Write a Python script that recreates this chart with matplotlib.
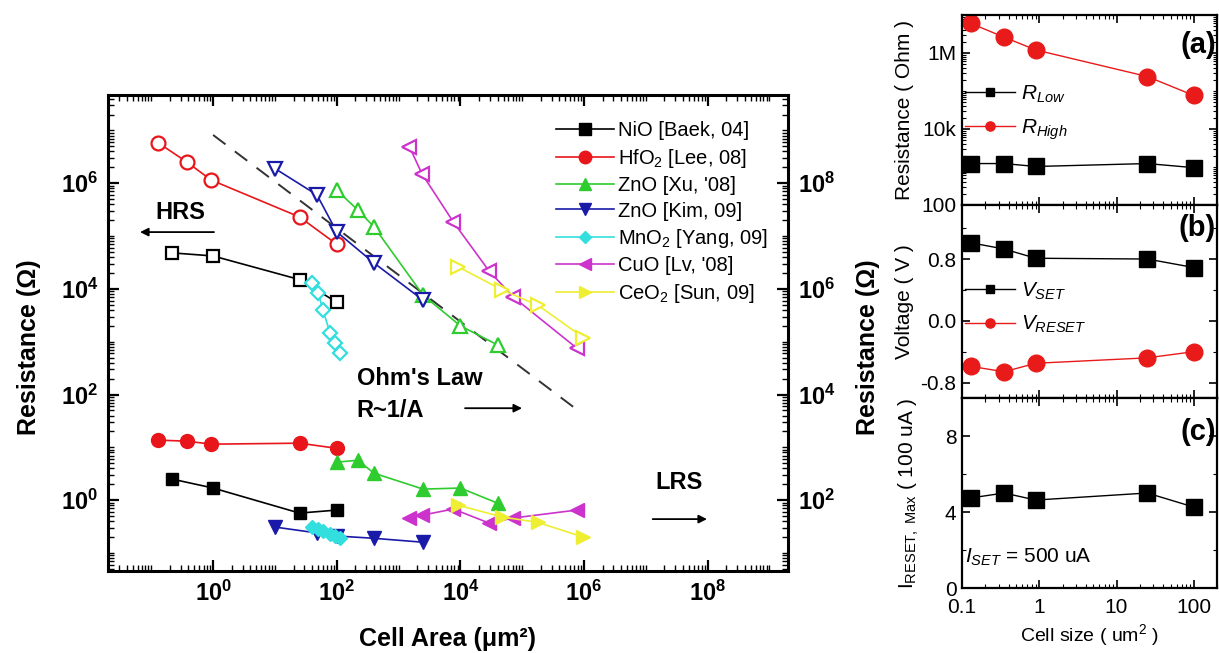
import numpy as np
import matplotlib
matplotlib.use('Agg')
import matplotlib.pyplot as plt
from matplotlib import font_manager as fm
from matplotlib.ticker import LogLocator, FuncFormatter, FixedLocator, NullFormatter

plt.rcParams['font.family'] = ['Liberation Sans', 'DejaVu Sans']
plt.rcParams['mathtext.fontset'] = 'custom'
plt.rcParams['mathtext.rm'] = 'Liberation Sans'
plt.rcParams['mathtext.it'] = 'Liberation Sans:italic'
plt.rcParams['mathtext.bf'] = 'Liberation Sans:bold'

names = [f.name for f in fm.fontManager.ttflist]
narrow = 'Liberation Sans Narrow' if 'Liberation Sans Narrow' in names else 'Liberation Sans'

# ---- left chart: HRS (left axis) and LRS (right axis) vs cell area ----
area_nio = [0.22, 1.0, 25, 100]
hrs_nio = [4.8e4, 4.2e4, 1.5e4, 5.6e3]
lrs_nio = [250, 170, 57, 65]

area_hfo2 = [0.13, 0.38, 0.93, 25, 100]
hrs_hfo2 = [5.8e6, 2.5e6, 1.15e6, 2.3e5, 7.0e4]
lrs_hfo2 = [1370, 1310, 1150, 1200, 960]

area_xu = [100, 220, 400, 2500, 1.0e4, 4.0e4]
hrs_xu = [7.4e5, 3.1e5, 1.5e5, 7.6e3, 2.0e3, 870]
lrs_xu = [525, 570, 325, 162, 170, 88]

area_kim = [10, 48, 100, 400, 2500]
hrs_kim = [1.9e6, 6.0e5, 1.2e5, 3.1e4, 6.1e3]
lrs_kim = [31, 24, 21, 19, 16]

area_mno2 = [40, 50, 60, 78, 95, 115]
hrs_mno2 = [1.3e4, 8.3e3, 4.0e3, 1.45e3, 940, 600]
lrs_mno2 = [31, 28, 26, 23, 21, 19]

area_cuo = [1.5e3, 2.4e3, 7.7e3, 2.9e4, 7.2e4, 7.6e5]
hrs_cuo = [4.9e6, 1.5e6, 1.85e5, 2.2e4, 7.0e3, 760]
lrs_cuo = [46, 52, 68, 37, 46, 65]

area_ceo2 = [9.3e3, 4.8e4, 1.8e5, 9.8e5]
hrs_ceo2 = [2.6e4, 9.5e3, 4.9e3, 1.2e3]
lrs_ceo2 = [80, 48, 38, 20]

ohm_area = [1.0, 8.8e5]
ohm_r = [8.2e6, 46]

# ---- right panels: cell size dependence ----
cell_size = [0.13, 0.35, 0.9, 25, 100]
r_low = [1230, 1230, 1030, 1230, 960]
r_high = [6.0e6, 2.6e6, 1.2e6, 2.4e5, 7.6e4]
v_set = [1.01, 0.93, 0.81, 0.80, 0.69]
v_reset = [-0.59, -0.66, -0.55, -0.48, -0.40]
i_reset = [4.74, 5.0, 4.63, 5.0, 4.26]

series = [
    ('NiO [Baek, 04]', area_nio, hrs_nio, lrs_nio, 'black', 's', 9),
    ('HfO$_2$ [Lee, 08]', area_hfo2, hrs_hfo2, lrs_hfo2, '#e8161b', 'o', 10),
    ("ZnO [Xu, '08]", area_xu, hrs_xu, lrs_xu, '#2ecc2e', '^', 10),
    ('ZnO [Kim, 09]', area_kim, hrs_kim, lrs_kim, '#1a1aa8', 'v', 10),
    ('MnO$_2$ [Yang, 09]', area_mno2, hrs_mno2, lrs_mno2, '#33dede', 'D', 7),
    ("CuO [Lv, '08]", area_cuo, hrs_cuo, lrs_cuo, '#cc33cc', '<', 10),
    ('CeO$_2$ [Sun, 09]', area_ceo2, hrs_ceo2, lrs_ceo2, '#eeee33', '>', 10),
]

fig = plt.figure(figsize=(12.19, 6.53), dpi=100)
ax = fig.add_axes([0.0886, 0.1256, 0.5578, 0.7289])
ax2 = ax.twinx()
ax.set_xscale('log')
ax.set_yscale('log')
ax2.set_yscale('log')
ylo, yhi = 10 ** -1.34, 10 ** 7.67
ax.set_xlim(10 ** -1.7, 10 ** 9.3)
ax.set_ylim(ylo, yhi)
ax2.set_ylim(ylo * 100, yhi * 100)

ax.plot(ohm_area, ohm_r, color='#333333', lw=1.4, ls=(0, (8, 6)))

handles = []
for label, xa, hrs, lrs, c, m, ms in series:
    ax.plot(xa, hrs, color=c, marker=m, ms=ms, mfc='white', mec=c, mew=1.6, lw=1.2)
    h, = ax2.plot(xa, lrs, color=c, marker=m, ms=ms, mfc=c, mec=c, lw=1.2, label=label)
    handles.append(h)

ax2.legend(handles=handles, loc='upper left', bbox_to_anchor=(0.659, 0.945),
           frameon=False, fontsize=14.5, handlelength=2.9, handletextpad=0.15,
           labelspacing=0.32, borderpad=0, borderaxespad=0, markerscale=0.9)


def dec_label(v, pos):
    return r'$\mathbf{10^{%d}}$' % int(round(np.log10(v)))


# labels every second decade, plain ticks on the others
ax.xaxis.set_major_locator(FixedLocator(10.0 ** np.arange(0, 9, 2)))
ax.yaxis.set_major_locator(FixedLocator(10.0 ** np.arange(0, 7, 2)))
ax2.yaxis.set_major_locator(FixedLocator(10.0 ** np.arange(2, 9, 2)))
for axis in (ax.xaxis, ax.yaxis, ax2.yaxis):
    axis.set_minor_locator(LogLocator(base=10, subs=np.arange(1, 10), numticks=30))
    axis.set_major_formatter(FuncFormatter(dec_label))
    axis.set_minor_formatter(NullFormatter())

ax.tick_params(which='both', direction='in', top=True, labelsize=17, pad=7)
ax.tick_params(which='major', length=8, width=1.6)
ax.tick_params(which='minor', length=4, width=1.0)
ax2.tick_params(which='both', direction='in', labelsize=17, pad=7)
ax2.tick_params(which='major', length=8, width=1.6)
ax2.tick_params(which='minor', length=4, width=1.0)
for s in ax.spines.values():
    s.set_linewidth(2.2)

ax.set_xlabel('Cell Area (μm²)', fontsize=18, fontweight='bold')
ax.xaxis.set_label_coords(0.5, -0.117)
ax.set_ylabel('Resistance (Ω)', fontsize=18, fontweight='bold')
ax.yaxis.set_label_coords(-0.098, 0.47)
ax2.set_ylabel('Resistance (Ω)', fontsize=18, fontweight='bold')
ax2.yaxis.set_label_coords(1.1, 0.47)

ax.text(0.106, 0.754, 'HRS', transform=ax.transAxes, fontsize=17, fontweight='bold',
        ha='center', va='center')
ax.annotate('', xy=(0.043, 0.712), xytext=(0.16, 0.712), xycoords='axes fraction',
            arrowprops=dict(arrowstyle='-|>', color='black', lw=1.3, mutation_scale=12))
ax.text(0.366, 0.405, "Ohm's Law", transform=ax.transAxes, fontsize=17, fontweight='bold',
        ha='left', va='center')
ax.text(0.366, 0.338, 'R~1/A', transform=ax.transAxes, fontsize=17, fontweight='bold',
        ha='left', va='center')
ax.annotate('', xy=(0.613, 0.342), xytext=(0.521, 0.342), xycoords='axes fraction',
            arrowprops=dict(arrowstyle='-|>', color='black', lw=1.3, mutation_scale=12))
ax.text(0.84, 0.185, 'LRS', transform=ax.transAxes, fontsize=17, fontweight='bold',
        ha='center', va='center')
ax.annotate('', xy=(0.885, 0.109), xytext=(0.797, 0.109), xycoords='axes fraction',
            arrowprops=dict(arrowstyle='-|>', color='black', lw=1.3, mutation_scale=12))

# ---- right stacked panels ----
left, width = 0.7892, 0.2092
axa = fig.add_axes([left, 0.6861, width, 0.2910])
axb = fig.add_axes([left, 0.3905, width, 0.2956], sharex=axa)
axc = fig.add_axes([left, 0.0995, width, 0.2910], sharex=axa)

red = '#e81a1a'
axa.plot(cell_size, r_low, color='black', marker='s', ms=11, lw=1.0, label='$R_{Low}$')
axa.plot(cell_size, r_high, color=red, marker='o', ms=12, lw=1.0, label='$R_{High}$')
axa.set_yscale('log')
axa.set_xscale('log')
axa.set_xlim(0.1, 200)
axa.set_ylim(100, 1e7)
axa.yaxis.set_major_locator(FixedLocator([1e2, 1e4, 1e6]))
axa.set_yticklabels(['100', '10k', '1M'])
axa.yaxis.set_minor_locator(LogLocator(base=10, subs=np.arange(1, 10), numticks=30))
axa.yaxis.set_minor_formatter(NullFormatter())

axb.plot(cell_size, v_set, color='black', marker='s', ms=11, lw=1.0, label='$V_{SET}$')
axb.plot(cell_size, v_reset, color=red, marker='o', ms=12, lw=1.0, label='$V_{RESET}$')
axb.set_ylim(-1.0, 1.5)
axb.set_yticks([-0.8, 0.0, 0.8])
axb.set_yticklabels(['-0.8', '0.0', '0.8'])
axb.set_yticks([-0.4, 0.4, 1.2], minor=True)

axc.plot(cell_size, i_reset, color='black', marker='s', ms=11, lw=1.0)
axc.set_ylim(0, 10)
axc.set_yticks([0, 4, 8])
axc.set_yticks([2, 6], minor=True)
axc.xaxis.set_major_locator(FixedLocator([0.1, 1, 10, 100]))
axc.set_xticklabels(['0.1', '1', '10', '100'])

for p in (axa, axb, axc):
    p.tick_params(which='both', direction='in', top=True, right=True)
    p.tick_params(which='major', length=6, width=1.2)
    p.tick_params(which='minor', length=3, width=0.8)
    p.tick_params(labelsize=15, pad=4)
    for t in p.get_yticklabels() + p.get_xticklabels():
        t.set_family(narrow)
    for s in p.spines.values():
        s.set_linewidth(1.6)
for p in (axa, axb):
    p.tick_params(labelbottom=False)
axc.tick_params(axis='x', pad=7)

axa.set_ylabel('Resistance ( Ohm )', fontsize=15)
axb.set_ylabel('Voltage ( V )', fontsize=15)
axc.set_ylabel(r'I$_{\mathrm{RESET,\ Max}}$ ( 100 uA )', fontsize=15)
for p in (axa, axb):
    p.yaxis.set_label_coords(-0.19, 0.5)
axc.yaxis.set_label_coords(-0.16, 0.5)
axc.set_xlabel('Cell size ( um$^2$ )', fontsize=14, family=narrow)
axc.xaxis.set_label_coords(0.5, -0.18)

axa.legend(loc='upper left', bbox_to_anchor=(0.012, 0.64), frameon=False, fontsize=15,
           handlelength=2.4, handletextpad=0.3, labelspacing=0.6, borderpad=0,
           borderaxespad=0, markerscale=0.55)
axb.legend(loc='upper left', bbox_to_anchor=(0.012, 0.61), frameon=False, fontsize=15,
           handlelength=2.4, handletextpad=0.3, labelspacing=0.6, borderpad=0,
           borderaxespad=0, markerscale=0.55)

axa.text(0.995, 0.84, '(a)', transform=axa.transAxes, fontsize=21, fontweight='bold',
         ha='right', va='center')
axb.text(0.995, 0.88, '(b)', transform=axb.transAxes, fontsize=21, fontweight='bold',
         ha='right', va='center')
axc.text(0.995, 0.82, '(c)', transform=axc.transAxes, fontsize=21, fontweight='bold',
         ha='right', va='center')
axc.text(0.01, 0.163, '$I_{SET}$ = 500 uA', transform=axc.transAxes, fontsize=15,
         family=narrow, ha='left', va='center')

fig.savefig('out.png', dpi=100)
